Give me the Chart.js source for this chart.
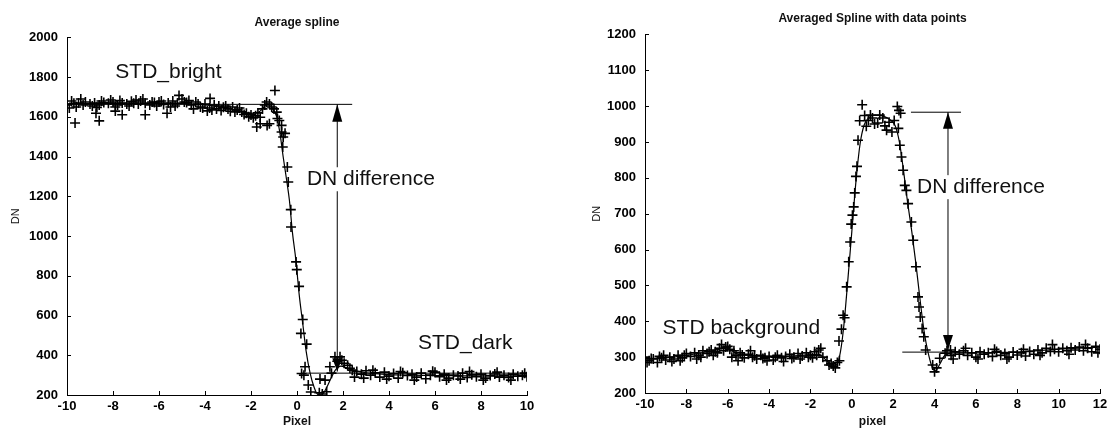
<!DOCTYPE html>
<html>
<head>
<meta charset="utf-8">
<script src="https://cdn.jsdelivr.net/npm/chart.js@4.4.1/dist/chart.umd.min.js"></script>
<style>
  html, body { margin: 0; padding: 0; background: #fff; overflow: hidden; }
  #wrap { position: relative; width: 1111px; height: 432px; overflow: hidden; }
  #left { position: absolute; left: 0; top: 0; }
  #right { position: absolute; left: 555px; top: 0; }
</style>
</head>
<body>
<div id="wrap">
  <canvas id="left" width="555" height="432"></canvas>
  <canvas id="right" width="570" height="432"></canvas>
</div>
<script>
// tick values
const leftXTicks = [-10, -8, -6, -4, -2, 0, 2, 4, 6, 8, 10];
const leftYTicks = [200, 400, 600, 800, 1000, 1200, 1400, 1600, 1800, 2000];
const rightXTicks = [-10, -8, -6, -4, -2, 0, 2, 4, 6, 8, 10, 12];
const rightYTicks = [200, 300, 400, 500, 600, 700, 800, 900, 1000, 1100, 1200];

// left: averaged spline (pixel, DN)
const leftSpline = [
  [-10, 1665], [-9, 1668], [-8, 1668], [-7, 1670], [-6, 1668], [-5, 1668], [-4, 1660],
  [-3.5, 1652], [-3, 1642], [-2.5, 1630], [-2, 1618], [-1.7, 1622], [-1.5, 1640],
  [-1.32, 1666], [-1.15, 1655], [-1, 1630], [-0.88, 1599], [-0.74, 1517], [-0.6, 1398],
  [-0.45, 1281], [-0.33, 1180], [-0.2, 1020], [-0.05, 880], [0.1, 700], [0.25, 560],
  [0.39, 426], [0.57, 310], [0.74, 240], [0.91, 203], [1.1, 205], [1.3, 240], [1.5, 290],
  [1.7, 330], [1.9, 345], [2.2, 335], [2.6, 320], [3, 312], [4, 303], [5, 300], [6, 298],
  [7, 297], [8, 296], [9, 295], [10, 294]
];

// left: data points
const leftPoints = [
  [-10, 1660], [-9.8, 1680], [-9.6, 1650], [-9.4, 1690], [-9.2, 1675], [-9, 1665], [-8.8, 1670],
  [-8.6, 1660], [-8.4, 1672], [-8.2, 1668], [-8, 1675], [-7.8, 1660], [-7.6, 1670], [-7.4, 1665],
  [-7.2, 1678], [-7, 1685], [-6.8, 1680], [-6.6, 1668], [-6.4, 1660], [-6.2, 1672], [-6, 1675],
  [-5.8, 1662], [-5.6, 1670], [-5.4, 1680], [-5.2, 1668], [-5, 1690], [-4.8, 1672], [-4.6, 1660],
  [-4.4, 1675], [-4.2, 1650], [-4, 1665], [-3.8, 1645], [-3.6, 1660], [-3.4, 1655], [-3.2, 1648],
  [-3, 1640], [-2.8, 1650], [-2.6, 1635], [-2.4, 1625], [-2.2, 1618], [-2, 1610], [-1.8, 1605],
  [-1.6, 1598],
  [-9.9, 1645], [-9.5, 1670], [-8.9, 1655], [-8.5, 1680], [-7.9, 1650], [-7.3, 1655], [-6.9, 1665],
  [-6.1, 1655], [-5.5, 1650], [-4.9, 1675], [-4.5, 1640], [-3.9, 1630], [-3.5, 1640], [-2.9, 1628],
  [-2.5, 1645], [-2.1, 1600], [-1.7, 1620],
  [-9.7, 1668], [-9.3, 1660], [-8.7, 1648], [-8.1, 1685], [-7.7, 1682], [-7.1, 1668], [-6.7, 1690],
  [-6.3, 1675], [-5.9, 1680], [-5.3, 1655], [-4.7, 1682], [-4.3, 1665], [-4.1, 1645], [-3.7, 1635],
  [-3.3, 1632], [-3.1, 1655], [-2.7, 1625], [-2.3, 1612], [-1.9, 1595],
  [-9.65, 1569], [-8.74, 1618], [-8.6, 1580], [-7.9, 1629], [-7.6, 1611], [-6.6, 1611], [-5.65, 1618],
  [-5.13, 1708], [-3.78, 1693], [-0.96, 1733], [-1.75, 1549], [-1.6, 1565], [-1.3, 1557], [-1.2, 1565],
  [-1.5, 1640], [-1.4, 1660], [-1.32, 1675], [-1.2, 1665], [-1.1, 1650], [-1, 1640], [-0.88, 1624],
  [-0.85, 1592], [-0.77, 1582], [-0.67, 1557], [-0.67, 1524], [-0.6, 1499], [-0.52, 1517],
  [-0.62, 1448], [-0.42, 1348], [-0.38, 1272], [-0.27, 1133], [-0.26, 1046], [-0.04, 870],
  [-0.01, 831], [0.09, 747], [0.25, 580], [0.17, 510], [0.42, 456], [0.35, 342], [0.2, 308],
  [0.3, 300], [0.49, 250], [0.6, 215], [0.97, 211], [1.1, 205], [1.29, 216], [1.22, 275], [1, 280],
  [1.43, 342], [1.5, 310], [1.65, 392], [1.75, 370], [1.87, 392], [1.95, 375], [2.05, 360],
  [2.2, 350], [2.3, 335],
  [2.4, 325], [2.6, 318], [2.8, 305], [3, 322], [3.2, 300], [3.4, 312], [3.6, 290], [3.8, 315],
  [4, 295], [4.2, 308], [4.4, 285], [4.6, 312], [4.8, 298], [5, 305], [5.2, 290], [5.4, 310],
  [5.6, 282], [5.8, 300], [6, 315], [6.2, 292], [6.4, 305], [6.6, 285], [6.8, 300], [7, 296],
  [7.2, 310], [7.4, 288], [7.6, 302], [7.8, 292], [8, 305], [8.2, 285], [8.4, 298], [8.6, 306],
  [8.8, 290], [9, 300], [9.2, 288], [9.4, 305], [9.6, 295], [9.8, 300], [10, 292],
  [2.5, 290], [2.9, 285], [3.3, 325], [3.9, 280], [4.5, 318], [5.1, 275], [5.9, 320], [6.5, 275],
  [7.1, 280], [7.5, 318], [8.1, 275], [8.7, 315], [9.3, 275], [9.9, 310]
];

// right: averaged spline (pixel, DN)
const rightSpline = [
  [-10, 295], [-9, 298], [-8, 305], [-7, 315], [-6, 325], [-5.8, 318], [-5.5, 308], [-5, 305],
  [-4, 302], [-3, 303], [-2, 307], [-1.6, 308], [-1.3, 295], [-1, 280], [-0.8, 278], [-0.6, 300],
  [-0.4, 380], [-0.2, 510], [0, 650], [0.2, 790], [0.4, 895], [0.6, 948], [0.8, 966], [1, 974],
  [1.3, 975], [1.6, 970], [1.9, 960], [2.1, 945], [2.3, 900], [2.5, 820], [2.7, 730], [2.9, 650],
  [3.1, 560], [3.3, 460], [3.5, 370], [3.7, 310], [3.9, 270], [4.05, 262], [4.25, 280], [4.5, 305],
  [5, 312], [6, 312], [7, 313], [8, 314], [9, 318], [10, 322], [11, 325], [12, 328]
];

// right: data points
const rightPoints = [
  [-10, 300], [-9.8, 290], [-9.6, 295], [-9.4, 285], [-9.2, 298], [-9, 292], [-8.8, 300], [-8.6, 295],
  [-8.4, 305], [-8.2, 298], [-8, 310], [-7.8, 302], [-7.6, 312], [-7.4, 305], [-7.2, 318], [-7, 310],
  [-6.8, 320], [-6.6, 315], [-6.4, 325], [-6.2, 318], [-6, 330], [-5.9, 322], [-5.8, 300], [-5.7, 318],
  [-5.6, 305], [-5.4, 312], [-5.2, 298], [-5, 308], [-4.8, 300], [-4.6, 295], [-4.4, 305], [-4.2, 298],
  [-4, 302], [-3.8, 292], [-3.6, 305], [-3.4, 298], [-3.2, 302], [-3, 308], [-2.8, 300], [-2.6, 310],
  [-2.4, 303], [-2.2, 312], [-2, 305], [-1.8, 315], [-1.6, 320], [-1.4, 300], [-1.2, 290], [-1, 282],
  [-0.9, 275], [-0.8, 270], [-0.7, 285], [-0.6, 290],
  [-9.9, 285], [-9.1, 305], [-8.3, 290], [-7.5, 295], [-6.7, 305], [-6.3, 335], [-5.5, 290],
  [-4.9, 318], [-4.1, 290], [-3.3, 288], [-2.5, 295], [-1.9, 298], [-1.5, 325],
  [-9.7, 296], [-9.3, 302], [-8.7, 288], [-8.1, 305], [-7.3, 300], [-6.9, 315], [-6.5, 312],
  [-6.1, 328], [-5.3, 306], [-4.7, 304], [-4.3, 296], [-3.7, 300], [-2.9, 296], [-2.1, 300],
  [-1.7, 305], [-1.1, 278],
  [-0.62, 345], [-0.5, 378], [-0.42, 417], [-0.35, 410], [-0.25, 496], [-0.15, 566], [-0.08, 621],
  [-0.03, 671], [0.03, 696], [0.09, 719], [0.14, 758], [0.2, 804], [0.25, 832], [0.3, 905],
  [0.38, 959], [0.5, 1004], [0.62, 974], [0.7, 944], [0.8, 960], [0.9, 975], [1, 967], [1.1, 950],
  [1.25, 953], [1.35, 975], [1.5, 967], [1.6, 945], [1.68, 933], [1.8, 955], [1.94, 928], [2.05, 960],
  [2.2, 999], [2.28, 988], [2.36, 980],
  [2.25, 938], [2.32, 891], [2.4, 858], [2.48, 821], [2.56, 779], [2.64, 765], [2.72, 728], [2.88, 677],
  [2.97, 626], [3.1, 552], [3.2, 468], [3.25, 440], [3.31, 412], [3.4, 380], [3.48, 357], [3.57, 320],
  [3.91, 278], [4, 259], [4.1, 270], [4.25, 297], [4.51, 311], [4.77, 320],
  [4.6, 318], [4.8, 305], [5, 315], [5.2, 308], [5.4, 318], [5.6, 305], [5.8, 312], [6, 300],
  [6.2, 315], [6.4, 308], [6.6, 312], [6.8, 302], [7, 316], [7.2, 305], [7.4, 310], [7.6, 300],
  [7.8, 314], [8, 306], [8.2, 312], [8.4, 303], [8.6, 316], [8.8, 308], [9, 320], [9.2, 312],
  [9.4, 325], [9.6, 316], [9.8, 322], [10, 315], [10.2, 325], [10.4, 318], [10.6, 326], [10.8, 320],
  [11, 328], [11.2, 318], [11.4, 325], [11.6, 315], [11.8, 330], [12, 322],
  [4.9, 295], [5.5, 325], [6.1, 295], [6.9, 322], [7.5, 295], [8.3, 322], [9.1, 305], [9.7, 335],
  [10.5, 308], [11.3, 335], [11.9, 312]
];

const toXY = arr => arr.map(p => ({ x: p[0], y: p[1] }));
const FONT = "'Liberation Sans', Arial, sans-serif";

// inward ticks + lines, arrows and labels drawn in data coordinates
const markPlugin = {
  id: 'marks',
  afterDraw(chart, args, opts) {
    const ctx = chart.ctx;
    const xs = chart.scales.x, ys = chart.scales.y;
    const area = chart.chartArea;
    ctx.save();
    ctx.strokeStyle = '#000';
    ctx.lineWidth = 1;
    ctx.beginPath();
    xs.ticks.forEach(t => {
      const px = Math.round(xs.getPixelForValue(t.value)) + 0.5;
      ctx.moveTo(px, area.bottom);
      ctx.lineTo(px, area.bottom - 4);
    });
    ys.ticks.forEach(t => {
      const py = Math.round(ys.getPixelForValue(t.value)) + 0.5;
      ctx.moveTo(area.left, py);
      ctx.lineTo(area.left + 4, py);
    });
    ctx.stroke();

    (opts.lines || []).forEach(l => {
      ctx.beginPath();
      ctx.moveTo(xs.getPixelForValue(l[0]), ys.getPixelForValue(l[1]));
      ctx.lineTo(xs.getPixelForValue(l[2]), ys.getPixelForValue(l[3]));
      ctx.stroke();
    });
    ctx.fillStyle = '#000';
    (opts.arrows || []).forEach(a => {
      const px = xs.getPixelForValue(a[0]);
      const tip = ys.getPixelForValue(a[1]);
      const base = ys.getPixelForValue(a[2]);
      ctx.beginPath();
      ctx.moveTo(px, tip);
      ctx.lineTo(px - 5, base);
      ctx.lineTo(px + 5, base);
      ctx.closePath();
      ctx.fill();
    });
    ctx.font = '21px ' + FONT;
    ctx.textBaseline = 'middle';
    ctx.textAlign = 'left';
    (opts.texts || []).forEach(t => {
      const px = xs.getPixelForValue(t[1]);
      const py = ys.getPixelForValue(t[2]);
      if (t[3]) {
        const w = ctx.measureText(t[0]).width;
        ctx.fillStyle = '#fff';
        ctx.fillRect(px - 2, py - 12, w + 4, 24);
      }
      ctx.fillStyle = '#111';
      ctx.fillText(t[0], px, py);
    });
    ctx.restore();
  }
};

function makeChart(id, cfg) {
  return new Chart(document.getElementById(id), {
    type: 'scatter',
    data: {
      datasets: [
        {
          data: toXY(cfg.spline),
          showLine: true,
          borderColor: '#000',
          borderWidth: 1.2,
          pointRadius: 0,
          cubicInterpolationMode: 'monotone'
        },
        {
          data: toXY(cfg.points),
          showLine: false,
          pointStyle: 'cross',
          pointRadius: 5,
          borderColor: '#000',
          borderWidth: 1.6
        }
      ]
    },
    options: {
      responsive: false,
      animation: false,
      layout: { padding: { left: 0, right: cfg.padRight, top: 0, bottom: 0 } },
      plugins: {
        legend: { display: false },
        tooltip: { enabled: false },
        title: {
          display: true,
          text: cfg.title,
          fullSize: false,
          color: '#111',
          font: { family: FONT, size: 12, weight: 'bold' },
          padding: cfg.titlePad
        },
        marks: cfg.marks
      },
      scales: {
        x: {
          type: 'linear',
          min: cfg.xTicks[0],
          max: cfg.xTicks[cfg.xTicks.length - 1],
          afterBuildTicks: s => { s.ticks = cfg.xTicks.map(v => ({ value: v })); },
          afterFit: s => { s.height = cfg.xHeight; },
          grid: { display: false, drawTicks: false },
          border: { display: true, color: '#000', width: 1 },
          ticks: {
            color: '#000', padding: 4, maxRotation: 0,
            font: { family: FONT, size: 13, weight: 'bold' },
            callback: v => String(v)
          },
          title: {
            display: true, text: cfg.xTitle, color: '#111',
            font: { family: FONT, size: 12, weight: 'bold' }, padding: { top: 0, bottom: 3 }
          }
        },
        y: {
          type: 'linear',
          min: cfg.yTicks[0],
          max: cfg.yTicks[cfg.yTicks.length - 1],
          afterBuildTicks: s => { s.ticks = cfg.yTicks.map(v => ({ value: v })); },
          afterFit: s => { s.width = cfg.yWidth; },
          grid: { display: false, drawTicks: false },
          border: { display: true, color: '#000', width: 1 },
          ticks: {
            color: '#000', padding: 9,
            font: { family: FONT, size: 13, weight: 'bold' },
            callback: v => String(v)
          },
          title: {
            display: true, text: 'DN', color: '#111',
            font: { family: FONT, size: 11 }, padding: { top: cfg.yTitlePad, bottom: 0 }
          }
        }
      }
    },
    plugins: [markPlugin]
  });
}

makeChart('left', {
  title: 'Average spline',
  xTitle: 'Pixel',
  spline: leftSpline,
  points: leftPoints,
  xTicks: leftXTicks,
  yTicks: leftYTicks,
  padRight: 28,
  yWidth: 67,
  xHeight: 37,
  yTitlePad: 9,
  titlePad: { top: 15, bottom: 8 },
  marks: {
    lines: [[-10, 1663, 2.4, 1663], [0.17, 310, 10, 310], [1.75, 318, 1.75, 1663]],
    arrows: [[1.75, 1663, 1575], [1.75, 318, 385]],
    texts: [['STD_bright', -7.9, 1824, false], ['DN difference', 0.43, 1286, true], ['STD_dark', 5.26, 461, false]]
  }
});

makeChart('right', {
  title: 'Averaged Spline with data points',
  xTitle: 'pixel',
  spline: rightSpline,
  points: rightPoints,
  xTicks: rightXTicks,
  yTicks: rightYTicks,
  padRight: 25,
  yWidth: 90,
  xHeight: 39,
  yTitlePad: 35,
  titlePad: { top: 11, bottom: 9 },
  marks: {
    lines: [[2.86, 983, 5.28, 983], [2.44, 314, 5.5, 314], [4.65, 320, 4.65, 983]],
    arrows: [[4.65, 983, 937], [4.65, 320, 362]],
    texts: [['DN difference', 3.15, 774, true], ['STD background', -9.15, 381, false]]
  }
});
</script>
</body>
</html>
